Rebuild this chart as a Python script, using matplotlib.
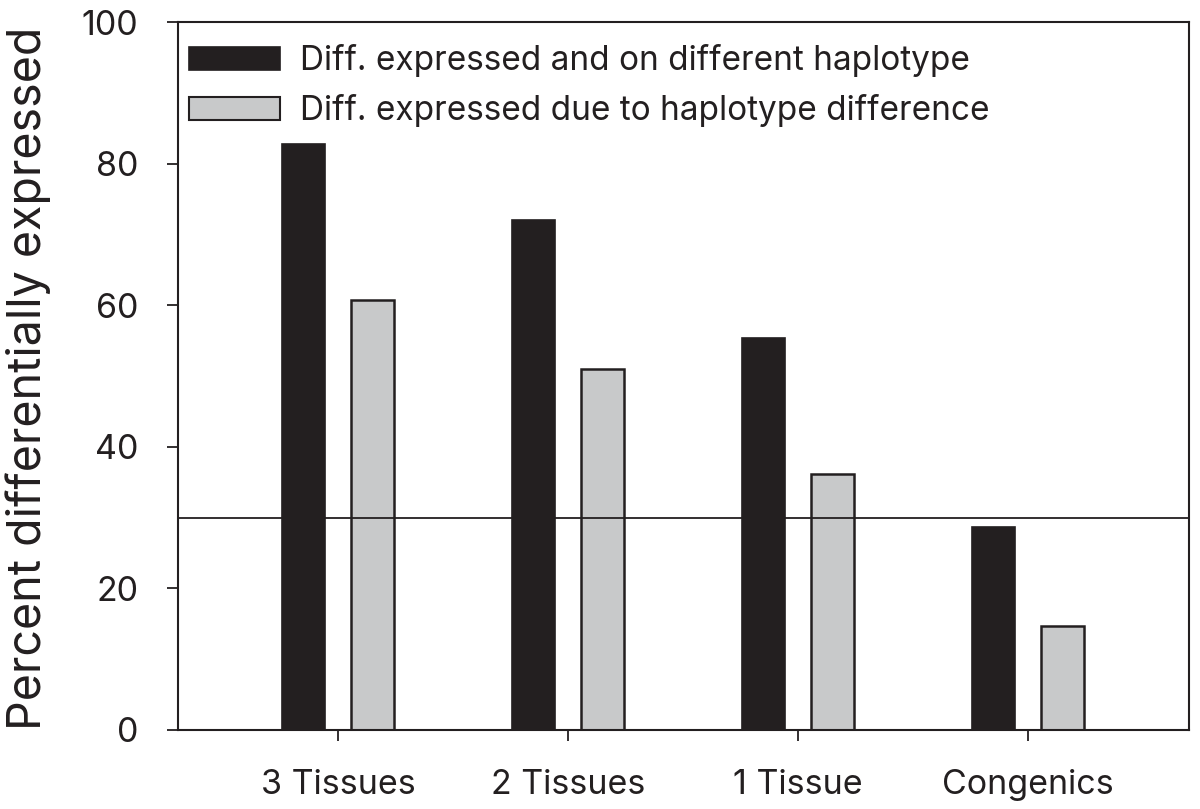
import matplotlib
matplotlib.use("Agg")
import matplotlib.pyplot as plt
import numpy as np
from matplotlib.patches import Patch

categories = ["3 Tissues", "2 Tissues", "1 Tissue", "Congenics"]
series_names = ["Diff. expressed and on different haplotype",
                "Diff. expressed due to haplotype difference"]
diff_haplotype = [82.7, 72.0, 55.4, 28.6]
due_to_haplotype = [60.7, 51.0, 36.2, 14.7]
reference_line = 30
yticks = [0, 20, 40, 60, 80, 100]

plt.rcParams['font.family'] = ['Inter', 'DejaVu Sans']

fig = plt.figure(figsize=(12, 8.09), dpi=100)
ax = fig.add_axes([0.1483, 0.0977, 0.9908 - 0.1483, 0.9728 - 0.0977])

x = np.arange(len(categories))
w = 0.187
off = 0.149
black = "#231f20"
gray = "#c8c9ca"
ax.bar(x - off, diff_haplotype, w, color=black, edgecolor=black, linewidth=1.2)
ax.bar(x + off, due_to_haplotype, w, color=gray, edgecolor=black, linewidth=1.8)
ax.axhline(reference_line, color=black, linewidth=1.3)

ax.set_xlim(-0.696, 3.70)
ax.set_ylim(0, 100)
ax.set_xticks(x)
ax.set_xticklabels(categories, fontsize=24.5)
ax.set_yticks(yticks)
ax.set_yticklabels([str(t) for t in yticks], fontsize=24.5)
ax.tick_params(axis='both', direction='out', length=8, width=1.3, color=black,
               labelcolor=black)
ax.tick_params(axis='x', pad=20)
ax.tick_params(axis='y', pad=20.5)
for s in ax.spines.values():
    s.set_linewidth(1.5)
    s.set_color(black)

ax.set_ylabel("Percent differentially expressed", fontsize=33.5, color=black)
ax.yaxis.set_label_coords(-0.1256, 0.497)

fs = 24
fpx = fs * 100 / 72
handles = [Patch(facecolor=black, edgecolor=black, linewidth=1.2),
           Patch(facecolor=gray, edgecolor=black, linewidth=1.5)]
leg = ax.legend(handles, series_names, loc='upper left', frameon=False,
                fontsize=fs, handlelength=91 / fpx, handleheight=22 / fpx,
                bbox_to_anchor=(11 / 1011, 1 - 22 / 708),
                borderpad=0, borderaxespad=0,
                labelspacing=0.52, handletextpad=20 / fpx)
for t in leg.get_texts():
    t.set_color(black)

fig.savefig("out.png", dpi=100)
